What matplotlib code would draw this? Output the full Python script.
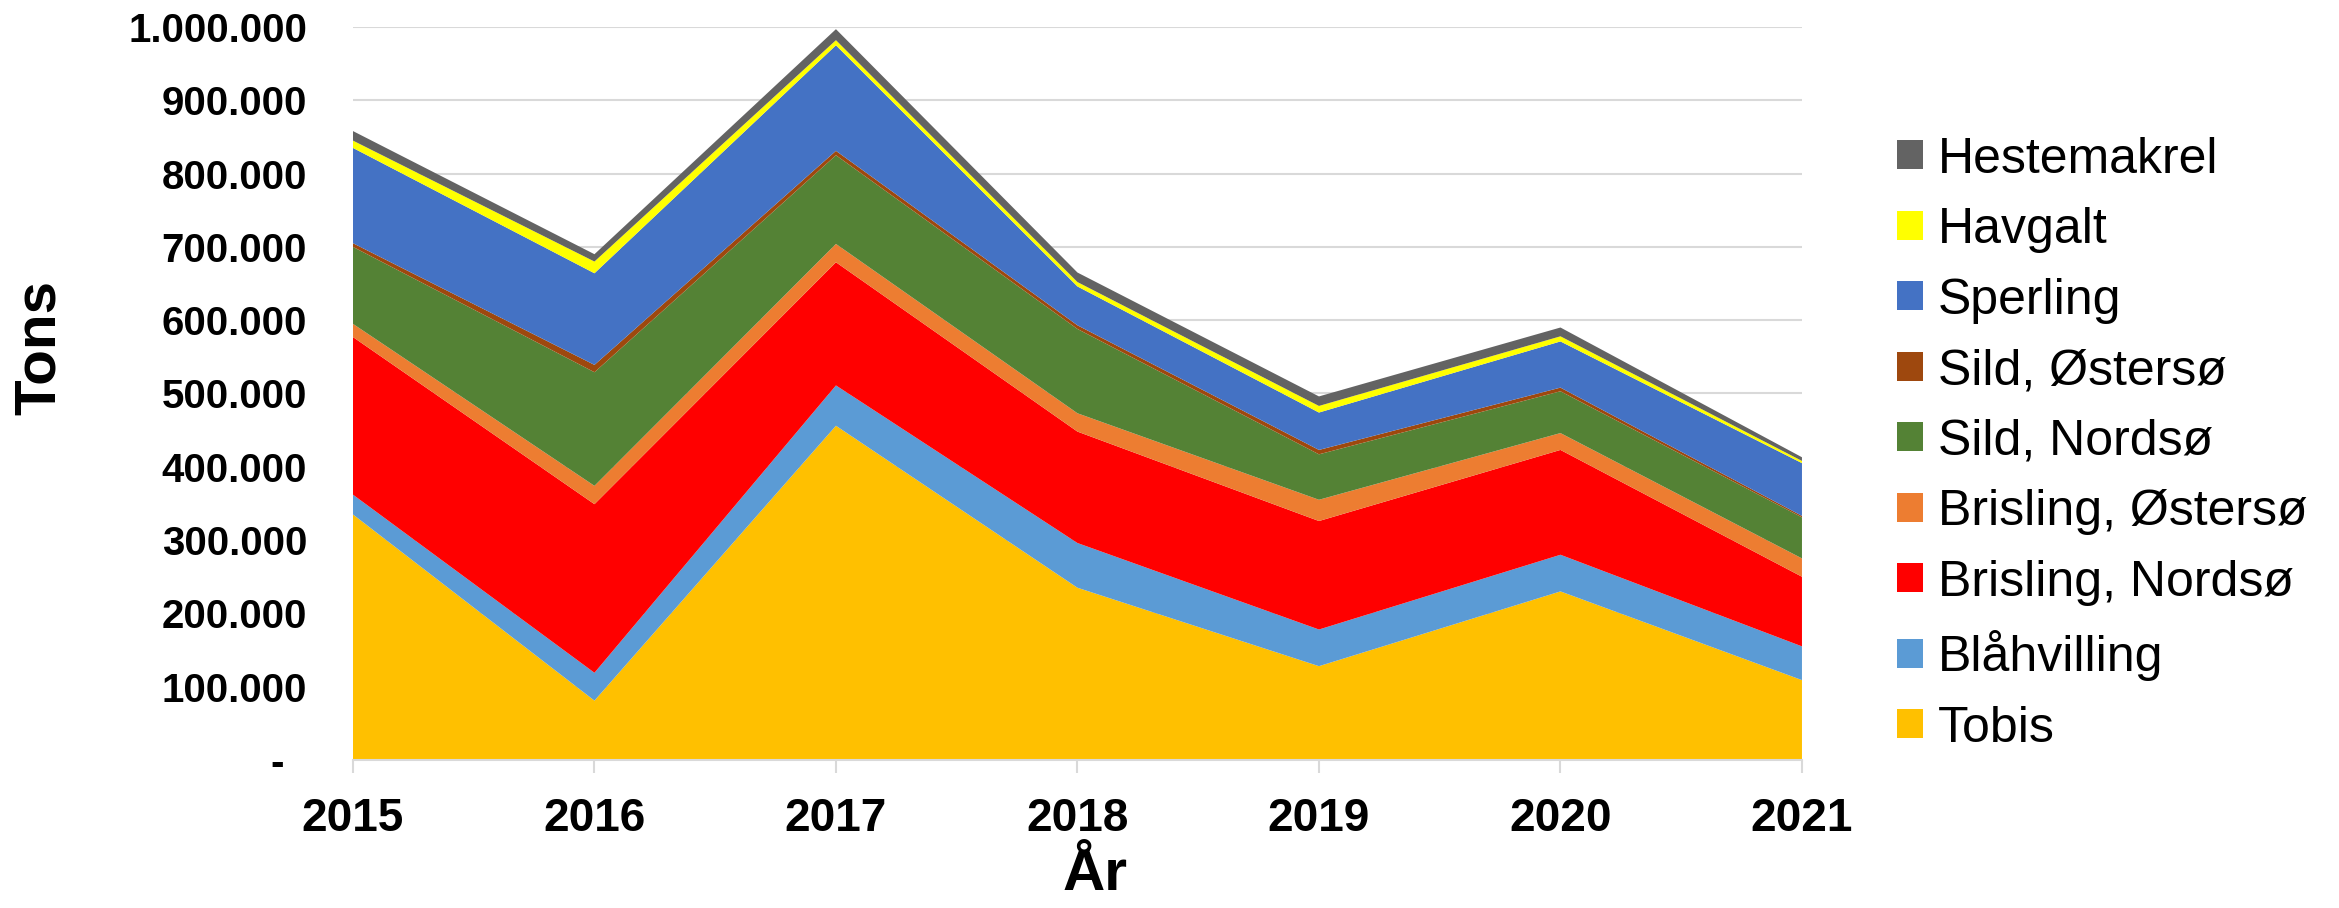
import matplotlib
matplotlib.use("Agg")
import matplotlib.pyplot as plt
from matplotlib.patches import Patch
from matplotlib.ticker import FuncFormatter

# Landings in tons per species, stacked bottom to top
years = [2015, 2016, 2017, 2018, 2019, 2020, 2021]
tobis = [335000, 81000, 456000, 235000, 128000, 230000, 109000]
blaahvilling = [27000, 38000, 55000, 61000, 50000, 50000, 46000]
brisling_nordsoe = [215000, 230000, 168000, 152000, 148000, 143000, 95000]
brisling_oestersoe = [18000, 25000, 25000, 25000, 29000, 23000, 25000]
sild_nordsoe = [105000, 155000, 121000, 115000, 62000, 57000, 56000]
sild_oestersoe = [5000, 10000, 6000, 5000, 6000, 5000, 2000]
sperling = [130000, 125000, 144000, 53000, 51000, 63000, 72000]
havgalt = [10000, 16000, 7000, 6000, 9000, 7000, 3000]
hestemakrel = [13000, 10000, 15000, 13000, 13000, 12000, 5000]

labels = ["Tobis", "Blåhvilling", "Brisling, Nordsø", "Brisling, Østersø",
          "Sild, Nordsø", "Sild, Østersø", "Sperling", "Havgalt", "Hestemakrel"]
series = [tobis, blaahvilling, brisling_nordsoe, brisling_oestersoe,
          sild_nordsoe, sild_oestersoe, sperling, havgalt, hestemakrel]
colors = ["#FFC000", "#5B9BD5", "#FF0000", "#ED7D31", "#548235",
          "#9E480E", "#4472C4", "#FFFF00", "#636363"]

plt.rcParams['font.family'] = ['Liberation Sans', 'DejaVu Sans']

fig = plt.figure(figsize=(23.39, 9.08), dpi=100)
ax = fig.add_axes([0.1509, 0.163, 0.6195, 0.8073])

ax.stackplot(years, *series, colors=colors, labels=labels, linewidth=0)

ax.set_xlim(years[0], years[-1])
ax.set_ylim(0, 1000000)
ax.set_yticks(range(0, 1000001, 100000))
ax.set_xticks(years)

def fmt(v, pos):
    if v == 0:
        return "-  "
    return f"{int(v):,}".replace(",", ".")

ax.yaxis.set_major_formatter(FuncFormatter(fmt))

ax.grid(axis='y', color='#D9D9D9', linewidth=1.5)
ax.set_axisbelow(True)
for s in ['top', 'right', 'left']:
    ax.spines[s].set_visible(False)
ax.spines['bottom'].set_color('#D9D9D9')
ax.spines['bottom'].set_linewidth(1.5)

ax.tick_params(axis='y', length=0, pad=33, labelsize=29)
ax.tick_params(axis='x', length=9, width=1.5, color='#D9D9D9', pad=18, labelsize=33)
for lbl in ax.get_xticklabels() + ax.get_yticklabels():
    lbl.set_fontweight('bold')

fig.text(0.017, 0.617, "Tons", rotation=90, ha='center', va='center',
         fontsize=42, fontweight='bold')
fig.text(0.468, 0.036, "År", ha='center', va='center',
         fontsize=42, fontweight='bold')

handles = [Patch(facecolor=c, edgecolor='none') for c in colors][::-1]
fig.legend(handles, labels[::-1], loc='center left', bbox_to_anchor=(0.811, 0.511),
           frameon=False, fontsize=36, handlelength=0.52, handleheight=0.52,
           handletextpad=0.3, labelspacing=0.49, borderpad=0, borderaxespad=0)

fig.savefig("out.png", dpi=100, facecolor='white')
